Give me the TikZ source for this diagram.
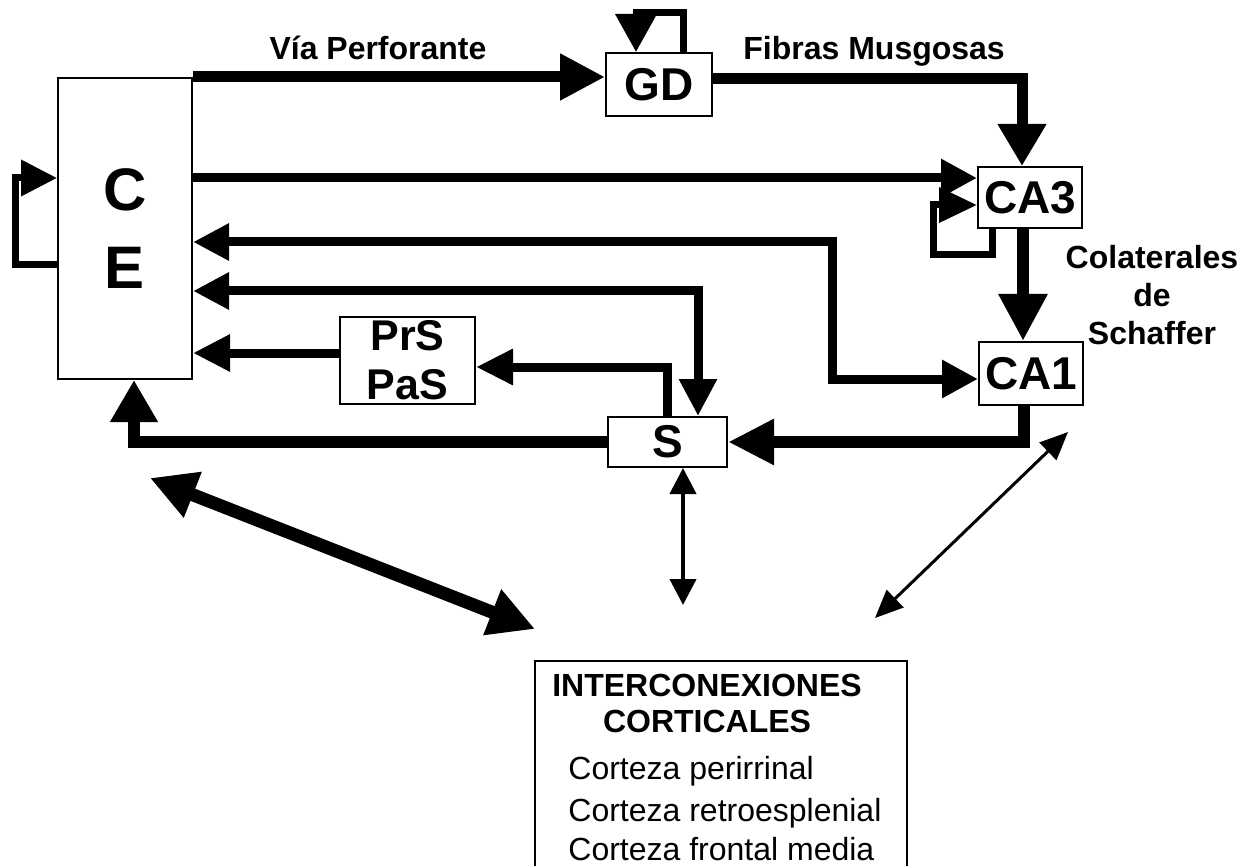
\documentclass[tikz,border=0pt]{standalone}
\usepackage{fontspec}
\setmainfont{Liberation Sans}
\usetikzlibrary{arrows.meta}
\begin{document}
\begin{tikzpicture}[x=0.5pt,y=-0.5pt,
  box/.style={draw, line width=1pt, inner sep=0pt, fill=white, font=\bfseries\fontsize{23}{26}\selectfont},
  lbl/.style={font=\bfseries\fontsize{16}{19}\selectfont, inner sep=0pt},
  plain/.style={font=\fontsize{16}{19}\selectfont, inner sep=0pt},
  heavyish/.style={line width=5.5pt},
  heavy/.style={line width=6pt},
  mid/.style={line width=4.5pt},
  loopl/.style={line width=3.5pt}]
\useasboundingbox (0,0) rectangle (1253,866);
\clip (0,0) rectangle (1253,866);

% boxes
\node[box, minimum width=67pt, minimum height=150.5pt, align=center,
      font=\bfseries\fontsize{30}{39}\selectfont] (ce) at (125,228.5) {C\\E};
\node[box, minimum width=53pt, minimum height=31.5pt] (gd) at (659,84.5) {GD};
\node[box, minimum width=52pt, minimum height=30.5pt] (ca3) at (1030,197.5) {CA3};
\node[box, minimum width=52pt, minimum height=31.5pt] (ca1) at (1031,373.5) {CA1};
\node[box, minimum width=67.5pt, minimum height=43.5pt, align=center,
      font=\bfseries\fontsize{21.5}{24.5}\selectfont] (prs) at (407.5,360.5) {PrS\\PaS};
\node[box, minimum width=59.5pt, minimum height=25pt] (s) at (667.5,442) {S};
\node[draw, line width=1pt, minimum width=186pt, minimum height=109.5pt, inner sep=0pt] (ic) at (721,770.5) {};

% labels
\node[lbl, anchor=base] (vp) at (378,60) {Vía Perforante};
\node[lbl, anchor=base west] (fmus) at (743,60) {Fibras Musgosas};
\node[lbl, align=center, font=\bfseries\fontsize{16}{19}\selectfont] (col) at (1152,295) {Colaterales\\de\\Schaffer};
\node[lbl, align=center, font=\bfseries\fontsize{16}{18}\selectfont] (ictitle) at (707,703) {INTERCONEXIONES\\CORTICALES};
\node[plain, anchor=base west] (l1) at (568,779) {Corteza perirrinal};
\node[plain, anchor=base west] (l2) at (568,821) {Corteza retroesplenial};
\node[plain, anchor=base west] (l3) at (568,860) {Corteza frontal media};

% connectors
\draw[heavyish, -{Triangle[length=22.5pt,width=22pt]}] (ce.north east) -- (ce.north east -| gd.west);
\coordinate (fm) at (1022,79);
\draw[heavyish, -{Triangle[length=21pt,width=23pt]}] (gd.east |- fm) -- (fm) -- (fm |- ca3.north);
\draw[mid, -{Triangle[length=18pt,width=18pt]}] (ce.east |- 0,178) -- (ca3.west |- 0,178);
\draw[loopl, -{Triangle[length=19pt,width=17pt]}] (ca3.south -| 992,0) -- (992,255) -- (933,255) -- (933,205) -- (ca3.west |- 0,205);
\draw[heavy, -{Triangle[length=23.5pt,width=23pt]}] (ca3.south -| 1023,0) -- (ca1.north -| 1023,0);
\draw[mid, {Triangle[length=18pt,width=17.5pt]}-{Triangle[length=18pt,width=18pt]}] (ce.east |- 0,242) -- (832,242) -- (832,379) -- (ca1.west |- 0,379);
\draw[mid, {Triangle[length=18pt,width=17.5pt]}-{Triangle[length=18.5pt,width=18pt]}] (ce.east |- 0,291) -- (698,291) -- (s.north -| 698,0);
\draw[mid, -{Triangle[length=18.5pt,width=17pt]}] (s.north -| 667,0) -- (667,367) -- (prs.east |- 0,367);
\draw[mid, -{Triangle[length=18.5pt,width=17.5pt]}] (prs.west |- 0,353) -- (ce.east |- 0,353);
\draw[heavy, -{Triangle[length=21pt,width=22.5pt]}] (s.west) -- (134,442) -- (ce.south -| 134,0);
\draw[heavy, -{Triangle[length=23pt,width=21.5pt]}] (ca1.south -| 1024,0) -- (1024,442) -- (s.east);
\coordinate (d1) at (150,478);
\coordinate (d2) at (535,629);
\draw[line width=6.5pt, {Triangle[length=23pt,width=23pt]}-{Triangle[length=23pt,width=23pt]}] (d1) -- (d2);
\coordinate (d3) at (683,605);
\draw[line width=2pt, {Triangle[length=13pt,width=13pt]}-{Triangle[length=13pt,width=13pt]}] (s.south -| d3) -- (d3);
\coordinate (d4) at (1068,432);
\coordinate (d5) at (875,618);
\draw[line width=1.5pt, {Triangle[length=14pt,width=12pt]}-{Triangle[length=14pt,width=12pt]}] (d4) -- (d5);
\draw[loopl, -{Triangle[length=18pt,width=17.5pt]}] (ce.west |- 0,265) -- (15,265) -- (15,178) -- (ce.west |- 0,178);
\draw[loopl, -{Triangle[length=19pt,width=20pt]}] (gd.north -| 683,0) -- (683,13) -- (636,13) -- (gd.north -| 636,0);
\end{tikzpicture}
\end{document}
